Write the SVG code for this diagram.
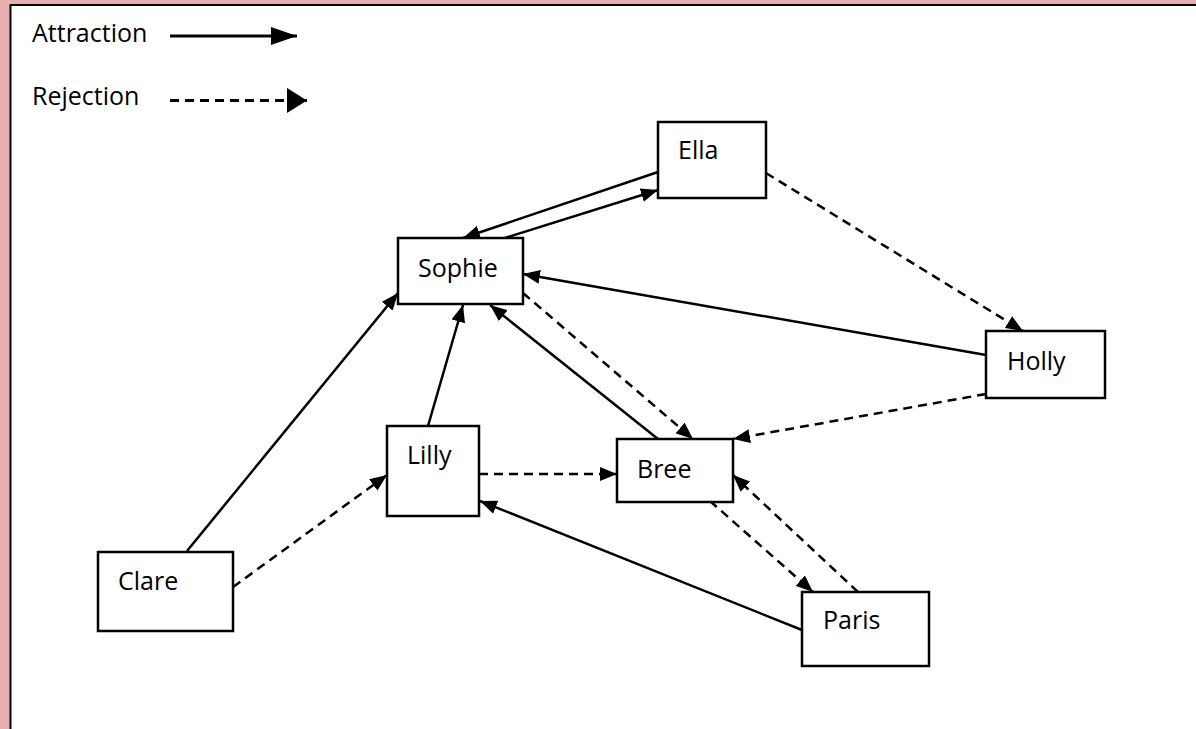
<svg xmlns="http://www.w3.org/2000/svg" width="1196" height="729" viewBox="0 0 1196 729">
<style>
.node rect{fill:#fff;stroke:#000;stroke-width:2.5}
text{font-family:"Open Sans","Liberation Sans",sans-serif;font-size:25px;fill:#000}
.att{stroke:#000;stroke-width:2.5;fill:none;marker-end:url(#ah)}
.rej{stroke:#000;stroke-width:2.5;fill:none;stroke-dasharray:9 6;marker-end:url(#ah)}
</style>
<defs>
<marker id="ah" markerUnits="userSpaceOnUse" markerWidth="17" markerHeight="14" refX="17" refY="7" orient="auto">
<path d="M0,0 L17,7 L0,14 z" fill="#000"/>
</marker>
<marker id="legA" markerUnits="userSpaceOnUse" markerWidth="26" markerHeight="18" refX="26" refY="9" orient="auto">
<path d="M0,0 L26,9 L0,18 z" fill="#000"/>
</marker>
<marker id="legR" markerUnits="userSpaceOnUse" markerWidth="20" markerHeight="25" refX="20" refY="12.5" orient="auto">
<path d="M0,0 L20,12.5 L0,25 z" fill="#000"/>
</marker>
</defs>
<rect x="0" y="0" width="1196" height="729" fill="#E9AEB2"/>
<rect x="10.5" y="5" width="1200" height="740" fill="#fff" stroke="#000" stroke-width="2"/>
<g id="legend">
<text x="32" y="42">Attraction</text>
<line x1="170" y1="36" x2="297" y2="36" stroke="#000" stroke-width="3" marker-end="url(#legA)"/>
<text x="32" y="105">Rejection</text>
<line x1="170" y1="100.5" x2="307" y2="100.5" stroke="#000" stroke-width="3" stroke-dasharray="9 6" marker-end="url(#legR)"/>
</g>
<g id="connectors">
<line class="att" x1="658" y1="172" x2="463" y2="238"/>
<line class="att" x1="505" y1="238" x2="658" y2="190"/>
<line class="att" x1="986" y1="355" x2="523" y2="274"/>
<line class="rej" x1="766" y1="173" x2="1023" y2="331"/>
<line class="rej" x1="523" y1="293" x2="693" y2="439"/>
<line class="att" x1="658" y1="439" x2="490" y2="305"/>
<line class="att" x1="428" y1="426" x2="463" y2="305"/>
<line class="att" x1="187" y1="551" x2="398" y2="293"/>
<line class="rej" x1="233" y1="587" x2="387" y2="475"/>
<line class="rej" x1="479" y1="474" x2="617" y2="474"/>
<line class="rej" x1="986" y1="394" x2="733" y2="439"/>
<line class="rej" x1="858" y1="592" x2="733" y2="475"/>
<line class="rej" x1="710" y1="501" x2="813" y2="592"/>
<line class="att" x1="802" y1="630" x2="480" y2="501"/>
</g>
<g id="ella" class="node"><rect x="658" y="122" width="108" height="76"/><text x="678" y="159">Ella</text></g>
<g id="sophie" class="node"><rect x="398" y="238" width="125" height="66"/><text x="418" y="277">Sophie</text></g>
<g id="holly" class="node"><rect x="986" y="331" width="119" height="67"/><text x="1007" y="370">Holly</text></g>
<g id="bree" class="node"><rect x="617" y="439" width="116" height="63"/><text x="637" y="478">Bree</text></g>
<g id="lilly" class="node"><rect x="387" y="426" width="92" height="90"/><text x="407" y="464">Lilly</text></g>
<g id="clare" class="node"><rect x="98" y="552" width="135" height="79"/><text x="118" y="590">Clare</text></g>
<g id="paris" class="node"><rect x="802" y="592" width="127" height="74"/><text x="823" y="629">Paris</text></g>
</svg>
